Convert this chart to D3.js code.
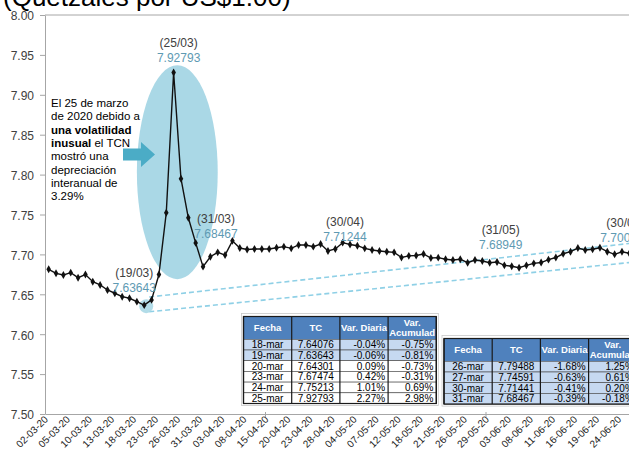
<!DOCTYPE html>
<html>
<head>
<meta charset="utf-8">
<script src="https://cdnjs.cloudflare.com/ajax/libs/d3/7.8.5/d3.min.js"></script>
<style>
    body { margin: 0; background: #fff; overflow: hidden; }
    svg { display: block; font-family: "Liberation Sans", Arial, sans-serif; }
</style>
</head>
<body>
<svg></svg>
<script>
const dates = [
    "02-03-20", "03-03-20", "04-03-20", "05-03-20", "06-03-20", "09-03-20", "10-03-20", "11-03-20",
    "12-03-20", "13-03-20", "16-03-20", "17-03-20", "18-03-20", "19-03-20", "20-03-20", "23-03-20",
    "24-03-20", "25-03-20", "26-03-20", "27-03-20", "30-03-20", "31-03-20", "01-04-20", "02-04-20",
    "03-04-20", "06-04-20", "07-04-20", "08-04-20", "13-04-20", "14-04-20", "15-04-20", "16-04-20",
    "17-04-20", "20-04-20", "21-04-20", "22-04-20", "23-04-20", "24-04-20", "27-04-20", "28-04-20",
    "29-04-20", "30-04-20", "04-05-20", "05-05-20", "06-05-20", "07-05-20", "08-05-20", "11-05-20",
    "12-05-20", "13-05-20", "14-05-20", "18-05-20", "19-05-20", "20-05-20", "21-05-20", "22-05-20",
    "25-05-20", "26-05-20", "27-05-20", "28-05-20", "29-05-20", "01-06-20", "02-06-20", "03-06-20",
    "04-06-20", "05-06-20", "08-06-20", "09-06-20", "10-06-20", "11-06-20", "12-06-20", "15-06-20",
    "16-06-20", "17-06-20", "18-06-20", "19-06-20", "22-06-20", "23-06-20", "24-06-20", "25-06-20"
];

const tcValues = [
    7.6813, 7.6763, 7.6742, 7.6771, 7.6708, 7.6748, 7.6658, 7.6617,
    7.6554, 7.6513, 7.6470, 7.6450, 7.64076, 7.63643, 7.64301, 7.67474,
    7.75213, 7.92793, 7.79488, 7.74591, 7.71441, 7.68467, 7.6971, 7.7026,
    7.6992, 7.7170, 7.7080, 7.7061, 7.7068, 7.7068, 7.7068, 7.7084,
    7.7097, 7.7076, 7.7118, 7.7118, 7.7097, 7.7130, 7.7043, 7.7068,
    7.7147, 7.71244, 7.7109, 7.7076, 7.7055, 7.7043, 7.7034, 7.7026,
    7.6961, 7.6982, 7.6986, 7.7005, 7.6955, 7.6959, 7.6940, 7.6930,
    7.6940, 7.6896, 7.6930, 7.6917, 7.68949, 7.6905, 7.6863, 7.6852,
    7.6833, 7.6863, 7.6888, 7.6898, 7.6934, 7.6961, 7.7008, 7.7034,
    7.7080, 7.7055, 7.7064, 7.7084, 7.7034, 7.7001, 7.7033, 7.7014
];

const yTicks = [7.50, 7.55, 7.60, 7.65, 7.70, 7.75, 7.80, 7.85, 7.90, 7.95, 8.00];
const labelEvery = 3;
const markEvery = 30;

// month-end callouts: anchor date, date label, value label
const calloutDates = ["19-03-20", "25-03-20", "31-03-20", "30-04-20", "29-05-20", "25-06-20"];
const calloutLabels = ["(19/03)", "(25/03)", "(31/03)", "(30/04)", "(31/05)", "(30/06)"];
const calloutValues = ["7.63643", "7.92793", "7.68467", "7.71244", "7.68949", "7.700"];

// shaded spike and the two dashed trend lines
const spikeFrom = "18-03-20", spikeTo = "02-04-20", spikeLow = 7.669, spikeHigh = 7.937;
const trendFrom = "19-03-20", trendTo = "25-06-20";
const trendUpper = [7.6459, 7.7137];
const trendLower = [7.6274, 7.6898];

const tableHeaders = ["Fecha", "TC", "Var. Diaria", "Var.|Acumulad"];
const table1Fecha = ["18-mar", "19-mar", "20-mar", "23-mar", "24-mar", "25-mar"];
const table1TC = ["7.64076", "7.63643", "7.64301", "7.67474", "7.75213", "7.92793"];
const table1Diaria = ["-0.04%", "-0.06%", "0.09%", "0.42%", "1.01%", "2.27%"];
const table1Acum = ["-0.75%", "-0.81%", "-0.73%", "-0.31%", "0.69%", "2.98%"];
const table2Fecha = ["26-mar", "27-mar", "30-mar", "31-mar"];
const table2TC = ["7.79488", "7.74591", "7.71441", "7.68467"];
const table2Diaria = ["-1.68%", "-0.63%", "-0.41%", "-0.39%"];
const table2Acum = ["1.25%", "0.61%", "0.20%", "-0.18%"];

const noteLines = [
    [["El 25 de marzo", false]],
    [["de 2020 debido a", false]],
    [["una volatilidad", true]],
    [["inusual", true], [" el TCN", false]],
    [["mostró una", false]],
    [["depreciación", false]],
    [["interanual de", false]],
    [["3.29%", false]]
];

function drawChart() {
    const svg = d3.select("svg").attr("width", 629).attr("height", 465);
    const left = 45, top = 15, bottom = 414, step = 7.35;

    const x = d3.scaleBand().domain(dates).range([left, left + dates.length * step]);
    const y = d3.scaleLinear().domain([7.5, 8.0]).range([bottom, top]);
    const cx = d => x(d) + x.bandwidth() / 2;
    const series = dates.map((d, i) => ({ date: d, value: tcValues[i] }));

    // title (partly above the frame)
    svg.append("text").attr("x", 3).attr("y", 6)
        .attr("font-size", 26).attr("fill", "#000")
        .text("(Quetzales por US$1.00)");

    // spike highlight ellipse
    svg.append("ellipse")
        .attr("cx", (x(spikeFrom) + x(spikeTo)) / 2 + x.bandwidth() / 2)
        .attr("cy", (y(spikeLow) + y(spikeHigh)) / 2)
        .attr("rx", (x(spikeTo) - x(spikeFrom)) / 2)
        .attr("ry", (y(spikeLow) - y(spikeHigh)) / 2)
        .attr("fill", "#aad8e6");

    // axes
    const yAxis = svg.append("g")
        .attr("transform", `translate(${left},0)`)
        .call(d3.axisLeft(y).tickValues(yTicks).tickSize(5).tickSizeOuter(0).tickFormat(d3.format(".2f")));
    yAxis.select(".domain").attr("stroke", "#a6a6a6");
    yAxis.selectAll(".tick line").attr("stroke", "#a6a6a6");
    yAxis.selectAll("text").attr("x", -11).attr("dy", "0.4em").attr("font-size", 12)
        .attr("font-family", "Liberation Sans, Arial, sans-serif").attr("fill", "#404040");

    svg.append("line")
        .attr("x1", left).attr("x2", x.range()[1])
        .attr("y1", y(8.0)).attr("y2", y(8.0))
        .attr("stroke", "#a6a6a6");

    const xAxis = svg.append("g")
        .attr("transform", `translate(0,${bottom})`)
        .call(d3.axisBottom(x)
            .tickValues(dates.filter((d, i) => i % labelEvery === 0))
            .tickSize(0).tickSizeOuter(0));
    xAxis.select(".domain").attr("stroke", "#a6a6a6");
    xAxis.selectAll("text")
        .attr("font-size", 10)
        .attr("font-family", "Liberation Sans, Arial, sans-serif")
        .attr("fill", "#1a1a1a")
        .attr("text-anchor", "end")
        .attr("dy", 0).attr("y", 0)
        .attr("transform", "translate(0,6) rotate(-45)");

    svg.append("g").selectAll("line")
        .data(dates.filter((d, i) => i > 0 && i % markEvery === 0))
        .join("line")
        .attr("x1", d => x(d)).attr("x2", d => x(d))
        .attr("y1", bottom - 2).attr("y2", bottom + 3)
        .attr("stroke", "#a6a6a6");

    // dashed trend lines from the March low
    [trendUpper, trendLower].forEach(t => {
        svg.append("line")
            .attr("x1", cx(trendFrom) + 5).attr("y1", y(t[0] + (t[1] - t[0]) * 5 / (cx(trendTo) - cx(trendFrom))))
            .attr("x2", cx(trendTo)).attr("y2", y(t[1]))
            .attr("stroke", "#8fd0e6").attr("stroke-width", 1.6)
            .attr("stroke-dasharray", "5,3");
    });

    // low point highlight
    svg.append("circle")
        .attr("cx", cx("19-03-20") + 2).attr("cy", y(tcValues[dates.indexOf("19-03-20")]) + 1)
        .attr("r", 7).attr("fill", "#aad8e6").attr("opacity", 0.9);

    // arrow
    svg.append("path")
        .attr("d", "M123,148.5H141V142L155,154.5L141,167V160.5H123Z")
        .attr("fill", "#4bacc6");

    // line + markers
    const line = d3.line().x(d => cx(d.date)).y(d => y(d.value));
    svg.append("path").datum(series)
        .attr("d", line)
        .attr("fill", "none").attr("stroke", "#111").attr("stroke-width", 1.4);

    svg.append("g").selectAll("path")
        .data(series)
        .join("path")
        .attr("transform", d => `translate(${cx(d.date)},${y(d.value)})`)
        .attr("d", d3.symbol(d3.symbolDiamond, 18))
        .attr("fill", "#111");

    // callouts
    const offsets = [[-10, -28.5], [5, -26], [13, -44], [-5, -18], [11, -28.5], [-6, -26]];
    calloutDates.forEach((d, i) => {
        const px = cx(d) + offsets[i][0];
        const py = y(tcValues[dates.indexOf(d)]) + offsets[i][1];
        const last = i === calloutDates.length - 1;
        const anchor = last ? "start" : "middle";
        const sx = last ? px - 17 : px;
        svg.append("text").attr("x", sx).attr("y", py)
            .attr("text-anchor", anchor).attr("font-size", 12).attr("fill", "#404040")
            .text(calloutLabels[i]);
        svg.append("text").attr("x", last ? sx - 6 : sx).attr("y", py + 15)
            .attr("text-anchor", anchor).attr("font-size", 12).attr("fill", "#5e9ab3")
            .text(calloutValues[i]);
    });

    // note text
    const note = svg.append("text").attr("font-size", 11.5).attr("fill", "#000");
    noteLines.forEach((parts, i) => {
        parts.forEach((p, j) => {
            const t = note.append("tspan").attr("font-weight", p[1] ? "bold" : "normal").text(p[0]);
            if (j === 0) t.attr("x", 51).attr("y", 107 + i * 13.3);
        });
    });

    // tables
    drawTable(svg, 243.5, 316.5, [table1Fecha, table1TC, table1Diaria, table1Acum], [0, 1]);
    drawTable(svg, 444, 338.5, [table2Fecha, table2TC, table2Diaria, table2Acum], [0, 1, 2, 3]);
}

function drawTable(svg, tx, ty, cols, shaded) {
    const colW = 48.2, headH = 22.8, rowH = 10.7;
    const n = cols[0].length;
    const g = svg.append("g").attr("transform", `translate(${tx},${ty})`);

    g.append("rect").attr("x", -2).attr("y", -3)
        .attr("width", colW * 4 + 4).attr("height", headH + n * rowH + 5)
        .attr("fill", "#fff").attr("stroke", "#c8c8c8").attr("stroke-width", 0.8);

    g.append("rect").attr("width", colW * 4).attr("height", headH).attr("fill", "#4f81bd");
    tableHeaders.forEach((h, c) => {
        const parts = h.split("|");
        parts.forEach((p, k) => {
            g.append("text")
                .attr("x", c * colW + colW / 2)
                .attr("y", parts.length === 1 ? headH / 2 + 3.5 : 9 + k * 10.5)
                .attr("text-anchor", "middle").attr("font-size", 9.5)
                .attr("font-weight", "bold").attr("fill", "#fff").text(p);
        });
    });

    for (let r = 0; r < n; r++) {
        const ry = headH + r * rowH;
        g.append("rect").attr("y", ry).attr("width", colW * 4).attr("height", rowH)
            .attr("fill", shaded.includes(r) ? "#c6d9f1" : "#fff")
            .attr("stroke", "#444").attr("stroke-width", 0.6);
        cols.forEach((col, c) => {
            const align = c < 2 ? "middle" : "end";
            const ax = c < 2 ? c * colW + colW / 2 : (c + 1) * colW - 3;
            g.append("text").attr("x", ax).attr("y", ry + rowH - 1.8)
                .attr("text-anchor", align).attr("font-size", 10).attr("fill", "#000")
                .text(col[r]);
        });
    }

    for (let c = 0; c <= 4; c++) {
        g.append("line").attr("x1", c * colW).attr("x2", c * colW)
            .attr("y1", 0).attr("y2", headH + n * rowH)
            .attr("stroke", "#1a1a1a").attr("stroke-width", 1.2);
    }
    g.append("rect").attr("width", colW * 4).attr("height", headH + n * rowH)
        .attr("fill", "none").attr("stroke", "#1a1a1a").attr("stroke-width", 1.2);
}

document.addEventListener("DOMContentLoaded", drawChart);
</script>
</body>
</html>
